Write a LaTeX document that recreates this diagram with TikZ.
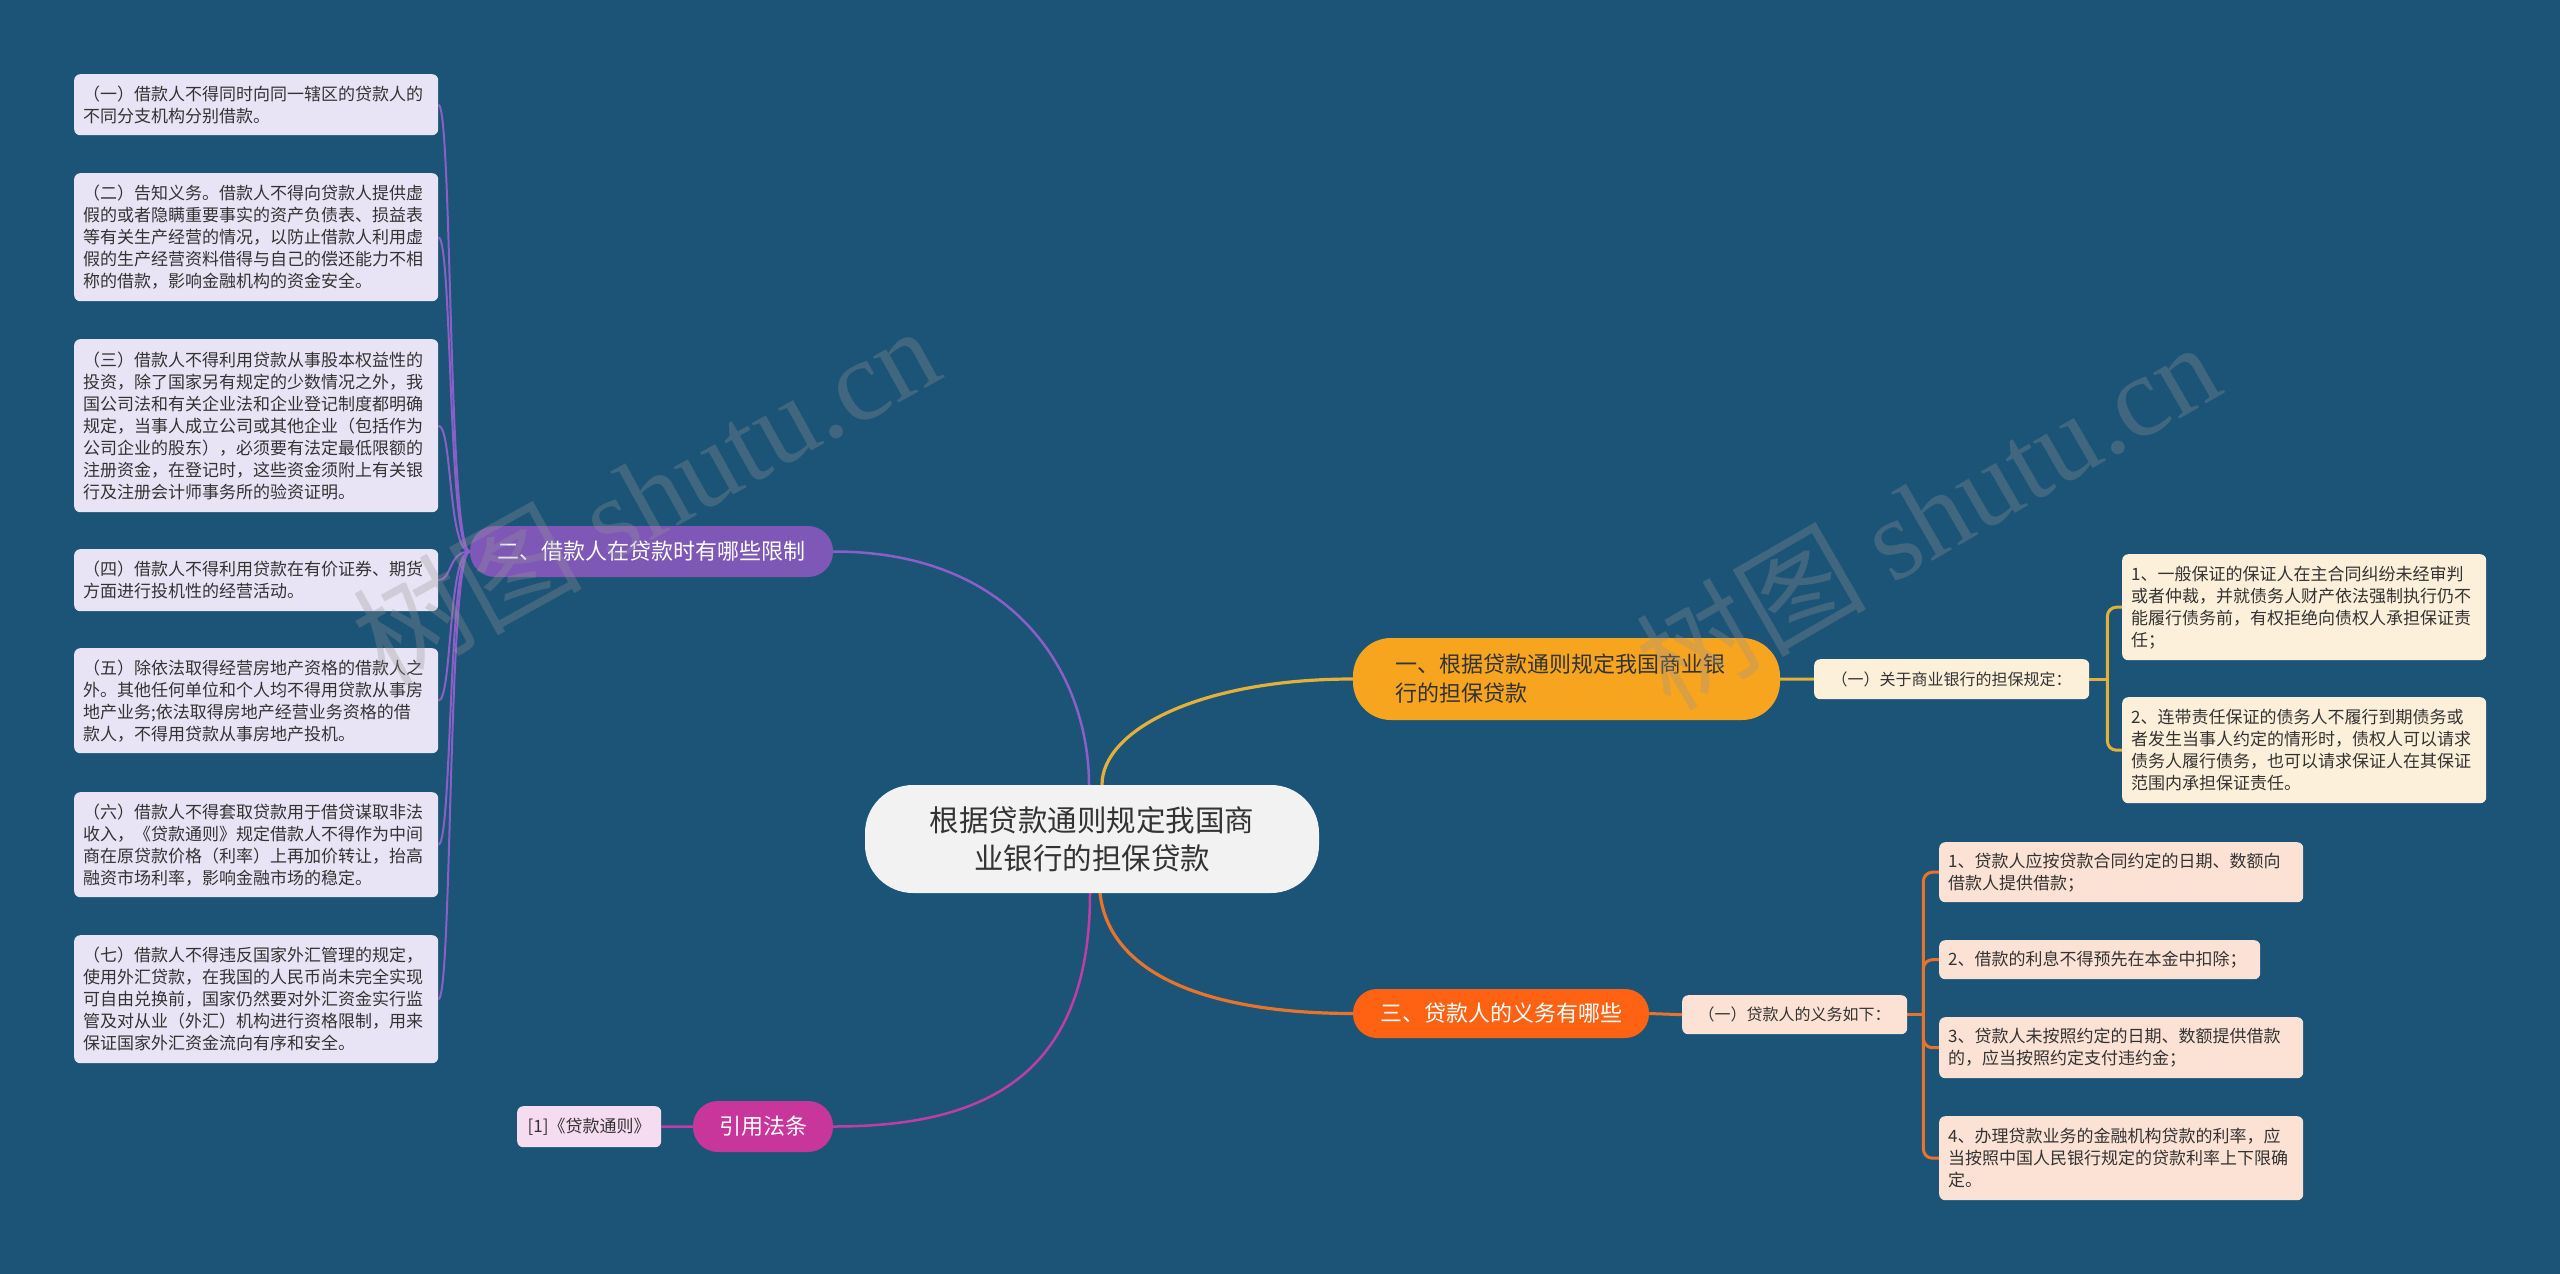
\documentclass[tikz,border=0pt]{standalone}
\usepackage{fontspec}
\setmainfont{Noto Sans CJK SC}
\newfontfamily\wmlatin{Liberation Serif}
\usetikzlibrary{calc}
\pgfdeclarelayer{bgl}
\pgfsetlayers{bgl,main}

\definecolor{bg}{RGB}{27,84,118}
\definecolor{txtdark}{RGB}{51,51,51}
\definecolor{rootfill}{RGB}{242,242,242}
\definecolor{bAfill}{RGB}{247,164,30}
\definecolor{bBfill}{RGB}{126,87,183}
\definecolor{bCfill}{RGB}{255,98,18}
\definecolor{bDfill}{RGB}{200,54,156}
\definecolor{lvfill}{RGB}{232,228,245}
\definecolor{crfill}{RGB}{253,240,218}
\definecolor{pcfill}{RGB}{252,226,212}
\definecolor{pkfill}{RGB}{246,220,240}
\definecolor{goldln}{RGB}{227,176,58}
\definecolor{orangeln}{RGB}{232,115,44}
\definecolor{purpleln}{RGB}{139,95,199}
\definecolor{magentaln}{RGB}{192,61,168}
\definecolor{wmgray}{RGB}{150,150,150}

\begin{document}
\begin{tikzpicture}[x=1pt,y=-1pt,
  base/.style={rectangle, inner ysep=0pt, text=txtdark},
  leafbox/.style={base, rounded corners=6pt, anchor=north west, inner xsep=9pt,
    text width=346pt, align=left, font=\fontsize{17}{22}\selectfont},
  smallbox/.style={base, rounded corners=6pt, anchor=north west, inner xsep=0pt,
    align=center, font=\fontsize{16}{20}\selectfont},
  pill/.style={base, inner xsep=0pt, text=white, align=center, font=\fontsize{22}{29}\selectfont},
  conn/.style={line width=2.5pt},
  wm/.style={text=wmgray, opacity=0.3, font=\fontsize{115}{115}\selectfont, inner sep=0pt}
]
\useasboundingbox (0,0) rectangle (2560,1274);

% root
\node[base, fill=rootfill, rounded corners=48pt, minimum width=454pt, minimum height=108pt,
      inner xsep=0pt, align=center, font=\fontsize{29.5}{38}\selectfont] (root) at (1092,839)
  {根据贷款通则规定我国商\\业银行的担保贷款};

% branch one
\node[base, fill=bAfill, rounded corners=38pt, minimum height=82pt, inner xsep=42pt,
      text width=343pt, align=left, text=txtdark, font=\fontsize{22}{29}\selectfont] (bA) at (1566.5,679)
  {一、根据贷款通则规定我国商业银\\行的担保贷款};
\node[smallbox, fill=crfill, minimum width=275pt, minimum height=40pt] (subA) at (1814,659)
  {（一）关于商业银行的担保规定：};
\node[leafbox, fill=crfill, minimum height=106pt] (rA1) at (2122,554)
  {1、一般保证的保证人在主合同纠纷未经审判\\或者仲裁，并就债务人财产依法强制执行仍不\\能履行债务前，有权拒绝向债权人承担保证责\\任；};
\node[leafbox, fill=crfill, minimum height=106pt] (rA2) at (2122,697)
  {2、连带责任保证的债务人不履行到期债务或\\者发生当事人约定的情形时，债权人可以请求\\债务人履行债务，也可以请求保证人在其保证\\范围内承担保证责任。};

% branch two
\node[pill, fill=bBfill, rounded corners=25pt, minimum width=363pt, minimum height=51pt] (bB) at (651.5,551.5)
  {二、借款人在贷款时有哪些限制};
\node[leafbox, fill=lvfill, minimum height=61pt] (lB1) at (74,74)
  {（一）借款人不得同时向同一辖区的贷款人的\\不同分支机构分别借款。};
\node[leafbox, fill=lvfill, minimum height=128pt] (lB2) at (74,173)
  {（二）告知义务。借款人不得向贷款人提供虚\\假的或者隐瞒重要事实的资产负债表、损益表\\等有关生产经营的情况，以防止借款人利用虚\\假的生产经营资料借得与自己的偿还能力不相\\称的借款，影响金融机构的资金安全。};
\node[leafbox, fill=lvfill, minimum height=173pt] (lB3) at (74,339)
  {（三）借款人不得利用贷款从事股本权益性的\\投资，除了国家另有规定的少数情况之外，我\\国公司法和有关企业法和企业登记制度都明确\\规定，当事人成立公司或其他企业（包括作为\\公司企业的股东），必须要有法定最低限额的\\注册资金，在登记时，这些资金须附上有关银\\行及注册会计师事务所的验资证明。};
\node[leafbox, fill=lvfill, minimum height=62pt] (lB4) at (74,549)
  {（四）借款人不得利用贷款在有价证券、期货\\方面进行投机性的经营活动。};
\node[leafbox, fill=lvfill, minimum height=105pt] (lB5) at (74,648)
  {（五）除依法取得经营房地产资格的借款人之\\外。其他任何单位和个人均不得用贷款从事房\\地产业务;依法取得房地产经营业务资格的借\\款人，不得用贷款从事房地产投机。};
\node[leafbox, fill=lvfill, minimum height=105pt] (lB6) at (74,792)
  {（六）借款人不得套取贷款用于借贷谋取非法\\收入，《贷款通则》规定借款人不得作为中间\\商在原贷款价格（利率）上再加价转让，抬高\\融资市场利率，影响金融市场的稳定。};
\node[leafbox, fill=lvfill, minimum height=128pt] (lB7) at (74,935)
  {（七）借款人不得违反国家外汇管理的规定，\\使用外汇贷款，在我国的人民币尚未完全实现\\可自由兑换前，国家仍然要对外汇资金实行监\\管及对从业（外汇）机构进行资格限制，用来\\保证国家外汇资金流向有序和安全。};

% branch three
\node[pill, fill=bCfill, rounded corners=24pt, minimum width=296pt, minimum height=49pt] (bC) at (1501,1013.5)
  {三、贷款人的义务有哪些};
\node[smallbox, fill=pcfill, minimum width=225pt, minimum height=39pt] (subC) at (1682,995)
  {（一）贷款人的义务如下：};
\node[leafbox, fill=pcfill, minimum height=60pt] (sC1) at (1939,842)
  {1、贷款人应按贷款合同约定的日期、数额向\\借款人提供借款；};
\node[leafbox, fill=pcfill, minimum height=39pt, text width=303pt] (sC2) at (1939,940)
  {2、借款的利息不得预先在本金中扣除；};
\node[leafbox, fill=pcfill, minimum height=61pt] (sC3) at (1939,1017)
  {3、贷款人未按照约定的日期、数额提供借款\\的，应当按照约定支付违约金；};
\node[leafbox, fill=pcfill, minimum height=84pt] (sC4) at (1939,1116)
  {4、办理贷款业务的金融机构贷款的利率，应\\当按照中国人民银行规定的贷款利率上下限确\\定。};

% branch four
\node[pill, fill=bDfill, rounded corners=25pt, minimum width=140pt, minimum height=51pt] (bD) at (763,1126.5)
  {引用法条};
\node[smallbox, fill=pkfill, minimum width=144pt, minimum height=41pt, font=\fontsize{17}{21}\selectfont] (ref) at (517,1106)
  {[1]《贷款通则》};

\begin{pgfonlayer}{bgl}
\fill[bg] (0,0) rectangle (2560,1274);
% root connectors
\draw[conn, line width=3.2pt, goldln] ([xshift=10pt]root.north) .. controls (1102,730) and (1200,679) .. (bA.west);
\draw[conn, purpleln] ([xshift=-3pt]root.north) .. controls (1089,680) and (1020,551.5) .. (bB.east);
\draw[conn, line width=3.2pt, orangeln] ([xshift=8pt]root.south) .. controls (1110,980) and (1220,1013.5) .. (bC.west);
\draw[conn, magentaln] ([xshift=-2pt]root.south) .. controls (1090,1080) and (980,1126.5) .. (bD.east);
% branch one bracket
\draw[conn, line width=3pt, goldln] (bA.east) -- (subA.west);
\draw[conn, line width=3pt, goldln] (subA.east) -- ++(18,0) coordinate (jA);
\draw[conn, line width=3pt, goldln, rounded corners=9pt] (jA) |- (rA1.west);
\draw[conn, line width=3pt, goldln, rounded corners=9pt] (jA) |- (rA2.west);
% branch two curves
\foreach \n in {lB1,lB2,lB3,lB4,lB5,lB6,lB7}{
  \draw[line width=2pt, purpleln] (bB.west) .. controls ($(bB.west)+(-22,0)$) and ($(\n.east)+(14,0)$) .. (\n.east);
}
% branch three bracket
\draw[conn, line width=3pt, orangeln] (bC.east) -- (subC.west);
\draw[conn, line width=3pt, orangeln] (subC.east) -- ++(16,0) coordinate (jC);
\foreach \n in {sC1,sC2,sC3,sC4}{
  \draw[conn, line width=3pt, orangeln, rounded corners=9pt] (jC) |- (\n.west);
}
% branch four
\draw[conn, magentaln] (bD.west) -- (ref.east);
\end{pgfonlayer}

% watermarks
\node[wm, rotate=29] (wm1) at (645,494) {树图 {\wmlatin shutu.cn}};
\node[wm, rotate=30] (wm2) at (1927,514) {树图 {\wmlatin shutu.cn}};
\end{tikzpicture}
\end{document}
